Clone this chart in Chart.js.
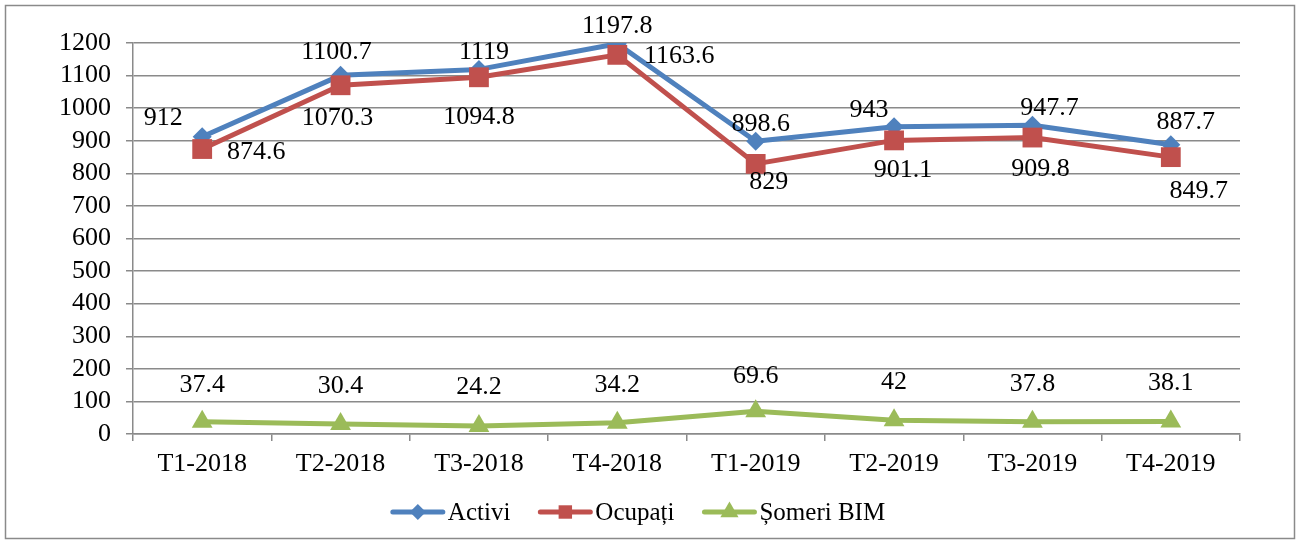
<!DOCTYPE html>
<html>
<head>
<meta charset="utf-8">
<script src="https://cdn.jsdelivr.net/npm/chart.js@4/dist/chart.umd.min.js"></script>
<style>
  html, body { margin: 0; padding: 0; background: #fff; }
  #wrap { width: 1300px; height: 544px; }
</style>
</head>
<body>
<div id="wrap"><canvas id="chart" width="1300" height="544"></canvas></div>
<script>
// Chart data
const quarters = ['T1-2018', 'T2-2018', 'T3-2018', 'T4-2018', 'T1-2019', 'T2-2019', 'T3-2019', 'T4-2019'];
const activi = [912, 1100.7, 1119, 1197.8, 898.6, 943, 947.7, 887.7];
const ocupati = [874.6, 1070.3, 1094.8, 1163.6, 829, 901.1, 909.8, 849.7];
const someri = [37.4, 30.4, 24.2, 34.2, 69.6, 42, 37.8, 38.1];
const seriesNames = ['Activi', 'Ocupați', 'Șomeri BIM'];
const yTicks = { min: 0, max: 1200, step: 100 };

// Where each value label sits relative to its point (dx, dy in px)
const labelOffsets = [
  [[-39, -19], [-4, -23], [5, -17], [0, -18], [5, -17], [-25, -17], [17, -17], [15, -23]],
  [[54, 3], [-3, 33], [0, 40], [62, 1], [13, 18], [9, 30], [8, 32], [28, 34]],
  [[0, -37], [0, -38], [0, -39], [0, -38], [0, -35], [0, -38], [0, -38], [0, -38]],
];

const FONT = "'Liberation Serif', 'Times New Roman', serif";
const GRID = '#8a8a8a';
const colors = ['#4f81bd', '#c0504d', '#9bbb59'];
const markers = ['rectRot', 'rect', 'triangle'];
const markerSize = [9.5, 14, 12];

// White background + outer frame
const framePlugin = {
  id: 'frame',
  beforeDraw(chart) {
    const { ctx, width, height } = chart;
    ctx.save();
    ctx.fillStyle = '#fff';
    ctx.fillRect(0, 0, width, height);
    ctx.strokeStyle = GRID;
    ctx.lineWidth = 1.5;
    ctx.strokeRect(5.5, 5.5, width - 11, height - 11);
    ctx.restore();
  }
};

// Value labels next to every point
const valueLabels = {
  id: 'valueLabels',
  afterDatasetsDraw(chart) {
    const { ctx } = chart;
    ctx.save();
    ctx.font = '26px ' + FONT;
    ctx.fillStyle = '#000';
    ctx.textAlign = 'center';
    ctx.textBaseline = 'middle';
    chart.data.datasets.forEach((ds, i) => {
      const meta = chart.getDatasetMeta(i);
      meta.data.forEach((pt, j) => {
        const off = labelOffsets[i][j];
        ctx.fillText(String(ds.data[j]), pt.x + off[0], pt.y + off[1]);
      });
    });
    ctx.restore();
  }
};

// Legend drawn as line + marker, like the office style
const lineLegend = {
  id: 'lineLegend',
  afterDraw(chart) {
    const { ctx } = chart;
    const lineLen = 54, gapText = 3, gapItem = 28, y = 512;
    ctx.save();
    ctx.font = '25px ' + FONT;
    ctx.textBaseline = 'middle';
    const widths = chart.data.datasets.map(ds => lineLen + gapText + ctx.measureText(ds.label).width);
    const total = widths.reduce((a, b) => a + b, 0) + gapItem * (widths.length - 1);
    let x = 638 - total / 2;
    chart.data.datasets.forEach((ds, i) => {
      ctx.strokeStyle = ds.borderColor;
      ctx.lineWidth = 5;
      ctx.lineCap = 'round';
      ctx.beginPath();
      ctx.moveTo(x + 2, y);
      ctx.lineTo(x + lineLen - 2, y);
      ctx.stroke();
      ctx.fillStyle = ds.borderColor;
      Chart.helpers.drawPoint(ctx, {
        pointStyle: ds.pointStyle,
        radius: i === 0 ? 8 : (i === 1 ? 9.5 : 10.5),
        borderWidth: 0
      }, x + lineLen / 2, y);
      ctx.fillStyle = '#000';
      ctx.fillText(ds.label, x + lineLen + gapText, y + 1);
      x += widths[i] + gapItem;
    });
    ctx.restore();
  }
};

const seriesData = [activi, ocupati, someri];
const datasets = seriesData.map((vals, i) => ({
  label: seriesNames[i],
  data: vals,
  borderColor: colors[i],
  backgroundColor: colors[i],
  pointBackgroundColor: colors[i],
  pointBorderWidth: 0,
  pointStyle: markers[i],
  pointRadius: markerSize[i],
  borderWidth: 5,
  borderJoinStyle: 'round',
  tension: 0,
  order: 2 - i,
}));

new Chart(document.getElementById('chart').getContext('2d'), {
  type: 'line',
  data: { labels: quarters, datasets },
  options: {
    responsive: false,
    animation: false,
    layout: { padding: { top: 43, left: 50, right: 60, bottom: 40 } },
    plugins: {
      legend: { display: false },
      tooltip: { enabled: false },
    },
    scales: {
      x: {
        offset: true,
        afterFit: (scale) => { scale.height = 70; },
        grid: {
          offset: true,
          drawOnChartArea: false,
          drawTicks: true,
          tickLength: 7,
          color: GRID,
          lineWidth: 1.5,
        },
        border: { color: GRID, width: 1.5 },
        ticks: {
          color: '#000',
          padding: 8,
          maxRotation: 0,
          font: { family: FONT, size: 26 },
        },
      },
      y: {
        min: yTicks.min,
        max: yTicks.max,
        afterFit: (scale) => { scale.width = 83; },
        grid: {
          color: GRID,
          lineWidth: 1.5,
          tickLength: 7,
        },
        border: { color: GRID, width: 1.5 },
        ticks: {
          stepSize: yTicks.step,
          autoSkip: false,
          callback: (v) => String(v),
          color: '#000',
          padding: 15,
          font: { family: FONT, size: 26 },
        },
      },
    },
  },
  plugins: [framePlugin, valueLabels, lineLegend],
});
</script>
</body>
</html>
